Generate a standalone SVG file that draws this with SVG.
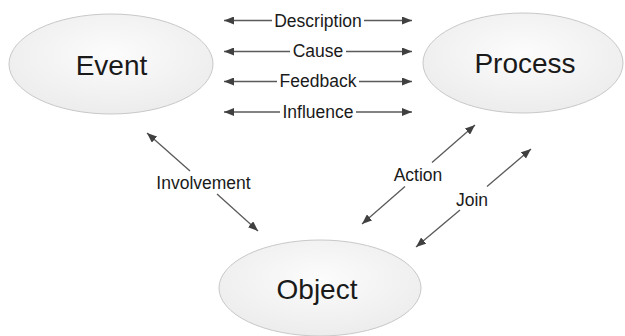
<svg xmlns="http://www.w3.org/2000/svg" width="625" height="336" viewBox="0 0 625 336">
<style>
.node{fill:url(#g);stroke:#c8c8c8;stroke-width:1}
.big{font-family:"Liberation Sans",Arial,sans-serif;font-size:28px;fill:#1a1a1a;text-anchor:middle}
.lbl{font-family:"Liberation Sans",Arial,sans-serif;font-size:17.5px;fill:#1a1a1a;text-anchor:middle}
.c{stroke:#5a5a5a;stroke-width:1.3;fill:none;marker-end:url(#ah)}
</style>
<defs>
<radialGradient id="g" cx="50%" cy="40%" r="65%">
<stop offset="0" stop-color="#fcfcfc"/>
<stop offset="1" stop-color="#ebebeb"/>
</radialGradient>
<marker id="ah" viewBox="0 0 10 8" refX="10" refY="4" markerWidth="10" markerHeight="8" markerUnits="userSpaceOnUse" orient="auto">
<path d="M0,0 L10,4 L0,8 z" fill="#404040"/>
</marker>
</defs>
<rect width="625" height="336" fill="#ffffff"/>
<g id="event">
<ellipse class="node" cx="111" cy="64" rx="102" ry="50"/>
<text class="big" x="111.5" y="75">Event</text>
</g>
<g id="process">
<ellipse class="node" cx="523" cy="63" rx="100" ry="50"/>
<text class="big" x="525" y="73">Process</text>
</g>
<g id="object">
<ellipse class="node" cx="320" cy="288" rx="101" ry="48"/>
<text class="big" x="317" y="299">Object</text>
</g>
<g id="connectors">
<line class="c" x1="272" y1="20.5" x2="224" y2="20.5"/>
<line class="c" x1="364" y1="20.5" x2="412" y2="20.5"/>
<line class="c" x1="290" y1="51.5" x2="224" y2="51.5"/>
<line class="c" x1="346" y1="51.5" x2="412" y2="51.5"/>
<line class="c" x1="277" y1="81.5" x2="224" y2="81.5"/>
<line class="c" x1="359" y1="81.5" x2="412" y2="81.5"/>
<line class="c" x1="280" y1="112" x2="224" y2="112"/>
<line class="c" x1="356" y1="112" x2="412" y2="112"/>
<line class="c" x1="190" y1="171" x2="147" y2="133"/>
<line class="c" x1="217" y1="194" x2="258" y2="231"/>
<line class="c" x1="432" y1="162.5" x2="475" y2="125"/>
<line class="c" x1="405" y1="186.5" x2="362" y2="224"/>
<line class="c" x1="487" y1="186.5" x2="531" y2="149"/>
<line class="c" x1="460" y1="210" x2="416" y2="247"/>
</g>
<g id="labels">
<text class="lbl" x="318" y="26.5">Description</text>
<text class="lbl" x="318" y="57">Cause</text>
<text class="lbl" x="318" y="87">Feedback</text>
<text class="lbl" x="318" y="117.5">Influence</text>
<text class="lbl" x="203.5" y="188.5">Involvement</text>
<text class="lbl" x="418" y="181">Action</text>
<text class="lbl" x="472" y="205.5">Join</text>
</g>
</svg>
